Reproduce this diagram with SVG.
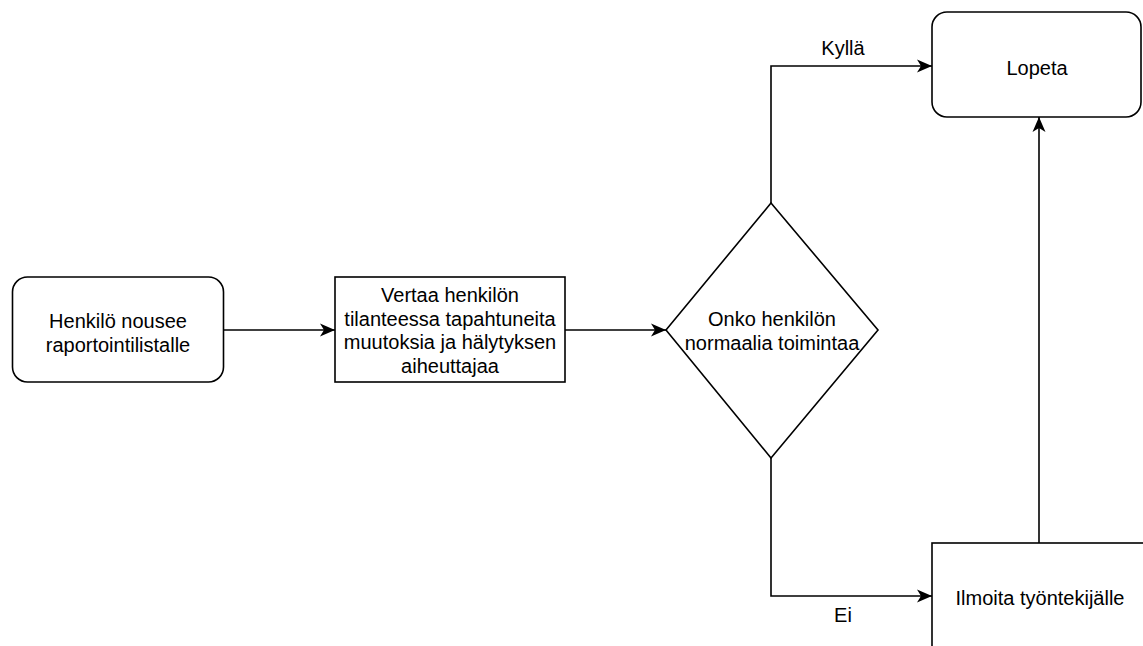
<svg xmlns="http://www.w3.org/2000/svg" width="1143" height="646" viewBox="0 0 1143 646">
  <style>
    .box { fill: #ffffff; stroke: #000000; stroke-width: 1.6; }
    .edge { fill: none; stroke: #000000; stroke-width: 1.6; }
    .lbl { font-family: "Liberation Sans", Arial, Helvetica, sans-serif; font-size: 20px; fill: #000000; text-anchor: middle; }
  </style>
  <defs>
    <marker id="arrow" markerUnits="userSpaceOnUse" markerWidth="18" markerHeight="14" refX="15" refY="6.5" orient="auto" viewBox="0 0 18 13">
      <path d="M0,0 L15,6.5 L0,13 L4,6.5 Z" fill="#000000"/>
    </marker>
  </defs>

  <rect width="1143" height="646" fill="#ffffff"/>

  <!-- connectors -->
  <g id="connectors">
    <path class="edge" d="M224,330 L335,330" marker-end="url(#arrow)"/>
    <path class="edge" d="M565,330 L666,330" marker-end="url(#arrow)"/>
    <path class="edge" d="M771,203 L771,66 L932,66" marker-end="url(#arrow)"/>
    <text class="lbl" x="843" y="55">Kyllä</text>
    <path class="edge" d="M771,458 L771,596 L932,596" marker-end="url(#arrow)"/>
    <text class="lbl" x="843" y="622">Ei</text>
    <path class="edge" d="M1039,543 L1039,117" marker-end="url(#arrow)"/>
  </g>

  <!-- start -->
  <g id="start">
    <rect class="box" x="12.5" y="277" width="211" height="105" rx="15" ry="15"/>
    <text class="lbl" x="118" y="328">Henkilö nousee</text>
    <text class="lbl" x="118" y="352">raportointilistalle</text>
  </g>

  <!-- compare -->
  <g id="compare">
    <rect class="box" x="335" y="277" width="230" height="105"/>
    <text class="lbl" x="450" y="302">Vertaa henkilön</text>
    <text class="lbl" x="450" y="325.5">tilanteessa tapahtuneita</text>
    <text class="lbl" x="450" y="349">muutoksia ja hälytyksen</text>
    <text class="lbl" x="450" y="372.5">aiheuttajaa</text>
  </g>

  <!-- decision -->
  <g id="decision">
    <path class="box" d="M771,203 L878,330 L771,458 L666,330 Z"/>
    <text class="lbl" x="772" y="326">Onko henkilön</text>
    <text class="lbl" x="772" y="350">normaalia toimintaa</text>
  </g>

  <!-- end -->
  <g id="end">
    <rect class="box" x="932" y="12" width="209" height="105" rx="15" ry="15"/>
    <text class="lbl" x="1037" y="75">Lopeta</text>
  </g>

  <!-- notify -->
  <g id="notify">
    <rect class="box" x="932" y="543" width="216" height="110"/>
    <text class="lbl" x="1040" y="605">Ilmoita työntekijälle</text>
  </g>
</svg>
